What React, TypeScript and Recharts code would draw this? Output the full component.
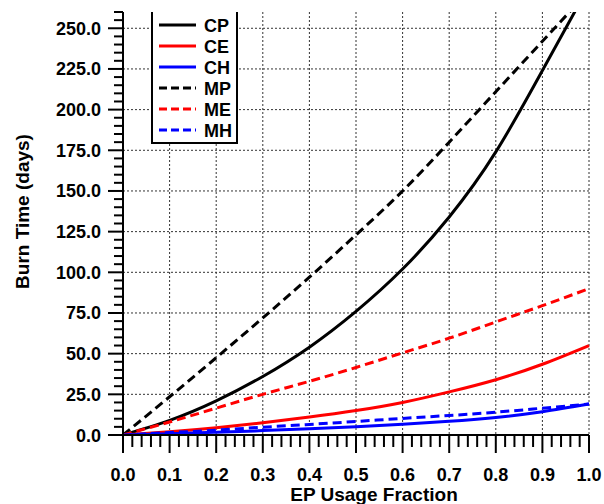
import React from 'react';
import { LineChart, Line, XAxis, YAxis, CartesianGrid, Legend } from 'recharts';

// EP usage fraction (x) and burn time in days for each case
const fraction = [0, 0.1, 0.2, 0.3, 0.4, 0.5, 0.6, 0.7, 0.8, 0.9, 1.0];
const cp = [0, 9, 21, 36, 54, 76, 102, 134, 174, 224, 276];
const ce = [0, 2, 4.5, 7.5, 11, 15, 20, 26.5, 34, 43.5, 55];
const ch = [0, 0.8, 1.7, 2.7, 3.8, 5.1, 6.6, 8.4, 10.8, 14.3, 19];
const mp = [0, 23.5, 47.5, 72, 97, 123, 150, 180, 211, 242, 273];
const me = [0, 8, 16.5, 25, 33, 41.5, 50.5, 59.5, 69.5, 79.5, 90];
const mh = [0, 1.5, 3, 4.8, 6.5, 8.3, 10.2, 12, 14, 16.5, 19];

const xLabels = [0, 0.1, 0.2, 0.3, 0.4, 0.5, 0.6, 0.7, 0.8, 0.9, 1.0];
const yLabels = [0, 25, 50, 75, 100, 125, 150, 175, 200, 225, 250];

const series = [
  { key: 'CP', color: '#000000', dashed: false },
  { key: 'CE', color: '#ff0000', dashed: false },
  { key: 'CH', color: '#0000ff', dashed: false },
  { key: 'MP', color: '#000000', dashed: true },
  { key: 'ME', color: '#ff0000', dashed: true },
  { key: 'MH', color: '#0000ff', dashed: true },
];

const data = fraction.map((x, i) => ({
  x,
  CP: cp[i],
  CE: ce[i],
  CH: ch[i],
  MP: mp[i],
  ME: me[i],
  MH: mh[i],
}));

// minor ticks: 5 per major step
const xTicks = Array.from({ length: 51 }, (_, i) => Math.round(i * 2) / 100);
const yTicks = Array.from({ length: 53 }, (_, i) => i * 5);

const FONT = '"Liberation Sans", Arial, sans-serif';
const DASH = '9 5';

const YTick = (props: any) => {
  const { x, y, payload } = props;
  const v = payload.value;
  const major = v % 25 === 0;
  return (
    <g>
      <line x1={x - (major ? 15 : 9)} x2={x} y1={y} y2={y} stroke="#000" strokeWidth={2} />
      {major && v <= 250 && (
        <text x={x - 22} y={y} dy={6.5} textAnchor="end" fontFamily={FONT} fontWeight="bold" fontSize={18} fill="#000">
          {v.toFixed(1)}
        </text>
      )}
    </g>
  );
};

const XTick = (props: any) => {
  const { x, y, payload } = props;
  const v = payload.value;
  const major = Math.abs(v * 10 - Math.round(v * 10)) < 1e-6;
  return (
    <g>
      <line x1={x} x2={x} y1={y} y2={y + (major ? 18 : 12)} stroke="#000" strokeWidth={2} />
      {major && (
        <text x={x} y={y + 46} textAnchor="middle" fontFamily={FONT} fontWeight="bold" fontSize={18} fill="#000">
          {v.toFixed(1)}
        </text>
      )}
    </g>
  );
};

const YTitle = (props: any) => {
  const { viewBox } = props;
  const cx = 22;
  const cy = viewBox.y + viewBox.height / 2 - 12;
  return (
    <text x={cx} y={cy} transform={`rotate(-90, ${cx}, ${cy})`} textAnchor="middle" dominantBaseline="central"
      fontFamily={FONT} fontWeight="bold" fontSize={19} fill="#000">
      Burn Time (days)
    </text>
  );
};

const XTitle = (props: any) => {
  const { viewBox } = props;
  const cx = viewBox.x + viewBox.width / 2 + 18;
  return (
    <text x={cx} y={501} textAnchor="middle" fontFamily={FONT} fontWeight="bold" fontSize={19} fill="#000">
      EP Usage Fraction
    </text>
  );
};

const LegendBox = () => (
  <div style={{ width: 83, height: 130, background: '#fff', borderLeft: '2px solid #000', borderRight: '2px solid #000', borderBottom: '2px solid #000' }}>
    <svg width={83} height={130}>
      {series.map((s, i) => {
        const y = 13 + i * 21;
        return (
          <g key={s.key}>
            <line x1={6} x2={43} y1={y} y2={y} stroke={s.color} strokeWidth={3} strokeDasharray={s.dashed ? '8 4' : undefined} />
            <text x={51} y={y} dy={6.5} fontFamily={FONT} fontWeight="bold" fontSize={18} fill="#000">
              {s.key}
            </text>
          </g>
        );
      })}
    </svg>
  </div>
);

export default function App() {
  return (
    <div style={{ position: 'absolute', left: 0, top: 0, width: 604, height: 504, background: '#fff' }}>
      <LineChart width={604} height={504} data={data} margin={{ top: 12, right: 15, left: 0, bottom: 0 }}>
        <CartesianGrid
          stroke="#333"
          strokeDasharray="2 2"
          horizontalValues={yLabels.slice(1)}
          verticalValues={xLabels.slice(1)}
        />
        <XAxis
          type="number"
          dataKey="x"
          domain={[0, 1]}
          ticks={xTicks}
          interval={0}
          height={69}
          tickSize={0}
          tickMargin={0}
          tickLine={false}
          tick={<XTick />}
          axisLine={{ stroke: '#000', strokeWidth: 2 }}
          label={<XTitle />}
        />
        <YAxis
          type="number"
          domain={[0, 260]}
          allowDataOverflow
          ticks={yTicks}
          interval={0}
          width={123}
          tickSize={0}
          tickMargin={0}
          tickLine={false}
          tick={<YTick />}
          axisLine={{ stroke: '#000', strokeWidth: 2 }}
          label={<YTitle />}
        />
        <Legend
          layout="vertical"
          align="center"
          verticalAlign="middle"
          wrapperStyle={{ left: 151, top: 12, width: 87 }}
          content={<LegendBox />}
        />
        {series.map((s) => (
          <Line
            key={s.key}
            type="natural"
            dataKey={s.key}
            stroke={s.color}
            strokeWidth={3}
            strokeDasharray={s.dashed ? DASH : undefined}
            dot={false}
            activeDot={false}
            isAnimationActive={false}
          />
        ))}
      </LineChart>
    </div>
  );
}
